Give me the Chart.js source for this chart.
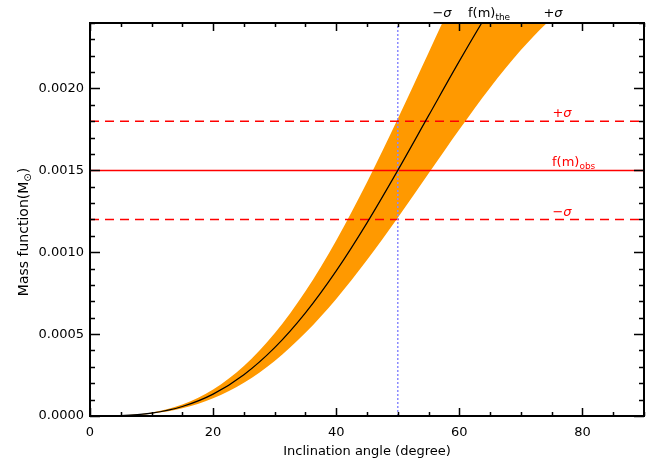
<!DOCTYPE html>
<html>
<head>
<meta charset="utf-8">
<script src="https://cdn.jsdelivr.net/npm/chart.js@4.4.0/dist/chart.umd.min.js"></script>
<style>
  html, body { margin: 0; padding: 0; background: #fff; }
  #wrap { width: 660px; height: 462px; }
</style>
</head>
<body>
<div id="wrap"><canvas id="c"></canvas></div>
<script>
// inclination angle (deg) grid
const angles = [0, 5, 10, 15, 20, 25, 30, 35, 40, 45, 50, 55, 60, 65, 70, 75, 80];
// theoretical mass function (black line)
const fmThe = [0, 0.0000022, 0.0000175, 0.0000579, 0.0001335, 0.0002519, 0.0004171, 0.0006297, 0.0008862,
  0.0011797, 0.0015000, 0.0018341, 0.0021673, 0.0024840, 0.0027688, 0.0030072, 0.0031870];
// orange band: -sigma edge (upper/left) and +sigma edge (lower/right)
const fmMinus = [0, 0.0000027, 0.0000211, 0.0000700, 0.0001615, 0.0003047, 0.0005046, 0.0007618, 0.0010722,
  0.0014273, 0.0018148, 0.0022189, 0.0026221, 0.0030052, 0.0033497, 0.0036380, 0.0038558];
const fmPlus = [0, 0.0000018, 0.0000141, 0.0000467, 0.0001077, 0.0002033, 0.0003366, 0.0005082, 0.0007152,
  0.0009521, 0.0012106, 0.0014802, 0.0017492, 0.0020048, 0.0022346, 0.0024270, 0.0025721];

// observed mass function and its sigma
const fmObs = 0.0015;
const fmObsHi = 0.0018;
const fmObsLo = 0.0012;
const iMark = 50;

const xTicks = [0, 20, 40, 60, 80];
const yTicks = [0, 0.0005, 0.0010, 0.0015, 0.0020];
const xRange = [0, 90];
const yRange = [0, 0.0024];

const FONT = "'DejaVu Sans', sans-serif";
const ORANGE = '#ff9900';

const pts = ys => angles.map((a, i) => ({ x: a, y: ys[i] }));
const hline = v => [{ x: xRange[0], y: v }, { x: xRange[1], y: v }];

// rich text: parts [{t, sub, it}]
function rich(ctx, parts, x, y, align, color, size = 13) {
  const fnt = p => (p.it ? 'italic ' : '') + (p.sub ? Math.round(size * 0.7) : size) + 'px ' + FONT;
  let w = 0;
  parts.forEach(p => { ctx.font = fnt(p); w += ctx.measureText(p.t).width; });
  let cx = align === 'center' ? x - w / 2 : align === 'right' ? x - w : x;
  ctx.fillStyle = color;
  ctx.textAlign = 'left';
  ctx.textBaseline = 'alphabetic';
  parts.forEach(p => {
    ctx.font = fnt(p);
    ctx.fillText(p.t, cx, y + (p.sub ? 3 : 0));
    cx += ctx.measureText(p.t).width;
  });
}

const decor = {
  id: 'decor',
  afterDraw(chart) {
    const { ctx, chartArea: a, scales: { x, y } } = chart;
    ctx.save();
    // frame
    ctx.strokeStyle = '#000';
    ctx.lineWidth = 2;
    ctx.strokeRect(a.left, a.top, a.right - a.left, a.bottom - a.top);
    // inward ticks on all four sides
    ctx.lineWidth = 1.5;
    ctx.beginPath();
    for (let v = xRange[0]; v <= xRange[1]; v += 5) {
      const px = Math.round(x.getPixelForValue(v)) + 0.5;
      const len = v % 20 === 0 ? 8 : 4;
      ctx.moveTo(px, a.bottom); ctx.lineTo(px, a.bottom - len);
      ctx.moveTo(px, a.top); ctx.lineTo(px, a.top + len);
    }
    for (let k = 0; k <= 24; k++) {
      const py = Math.round(y.getPixelForValue(k * 0.0001)) + 0.5;
      const len = k % 5 === 0 ? 10 : 5;
      ctx.moveTo(a.left, py); ctx.lineTo(a.left + len, py);
      ctx.moveTo(a.right, py); ctx.lineTo(a.right - len, py);
    }
    ctx.stroke();

    // top labels
    rich(ctx, [{ t: '\u2212' }, { t: '\u03c3', it: true }], 442, 17, 'center', '#000');
    rich(ctx, [{ t: 'f(m)' }, { t: 'the', sub: true }], 468, 17, 'left', '#000');
    rich(ctx, [{ t: '+' }, { t: '\u03c3', it: true }], 553, 17, 'center', '#000');
    // right labels (red)
    rich(ctx, [{ t: '+' }, { t: '\u03c3', it: true }], 562, y.getPixelForValue(fmObsHi) - 4, 'center', '#ff0000');
    rich(ctx, [{ t: 'f(m)' }, { t: 'obs', sub: true }], 552, y.getPixelForValue(fmObs) - 4, 'left', '#ff0000');
    rich(ctx, [{ t: '\u2212' }, { t: '\u03c3', it: true }], 562, y.getPixelForValue(fmObsLo) - 4, 'center', '#ff0000');

    // axis titles
    rich(ctx, [{ t: 'Inclination angle (degree)' }], (a.left + a.right) / 2, 455, 'center', '#000');
    ctx.translate(28, 232);
    ctx.rotate(-Math.PI / 2);
    rich(ctx, [{ t: 'Mass function(M' }, { t: '\u2299', sub: true }, { t: ')' }], 0, 0, 'center', '#000', 14);
    ctx.restore();
  }
};

new Chart(document.getElementById('c'), {
  type: 'line',
  data: {
    datasets: [
      { data: pts(fmMinus), borderWidth: 0, borderColor: ORANGE, backgroundColor: ORANGE, fill: '+1',
        pointRadius: 0, cubicInterpolationMode: 'monotone', order: 10 },
      { data: pts(fmPlus), borderWidth: 0, borderColor: ORANGE, pointRadius: 0, fill: false,
        cubicInterpolationMode: 'monotone', order: 9 },
      { data: pts(fmThe), borderWidth: 1.2, borderColor: '#000', pointRadius: 0, fill: false,
        cubicInterpolationMode: 'monotone', order: 1 },
      { data: hline(fmObs), borderWidth: 1.5, borderColor: '#ff0000', pointRadius: 0, fill: false, order: 3 },
      { data: hline(fmObsHi), borderWidth: 1.5, borderColor: '#ff0000', borderDash: [9, 6], pointRadius: 0, fill: false, order: 3 },
      { data: hline(fmObsLo), borderWidth: 1.5, borderColor: '#ff0000', borderDash: [9, 6], pointRadius: 0, fill: false, order: 3 },
      { data: [{ x: iMark, y: yRange[0] }, { x: iMark, y: yRange[1] }], borderWidth: 1.5, borderColor: '#8a8aff',
        borderDash: [2, 2], pointRadius: 0, fill: false, order: 2 }
    ]
  },
  plugins: [decor],
  options: {
    responsive: true, maintainAspectRatio: false, animation: false,
    layout: { padding: { left: 0, top: 23, right: 16, bottom: 0 } },
    plugins: { legend: { display: false }, tooltip: { enabled: false } },
    scales: {
      x: {
        type: 'linear', min: xRange[0], max: xRange[1],
        afterBuildTicks: s => { s.ticks = xTicks.map(v => ({ value: v })); },
        afterFit: s => { s.height = 46; },
        grid: { display: false, drawTicks: false },
        border: { display: false },
        ticks: { padding: 9, color: '#000', font: { family: FONT, size: 13 }, maxRotation: 0, callback: v => String(v) }
      },
      y: {
        type: 'linear', min: yRange[0], max: yRange[1],
        afterBuildTicks: s => { s.ticks = yTicks.map(v => ({ value: v })); },
        afterFit: s => { s.width = 90; },
        grid: { display: false, drawTicks: false },
        border: { display: false },
        ticks: { padding: 6, color: '#000', font: { family: FONT, size: 13 }, callback: v => Number(v).toFixed(4) }
      }
    }
  }
});
</script>
</body>
</html>
